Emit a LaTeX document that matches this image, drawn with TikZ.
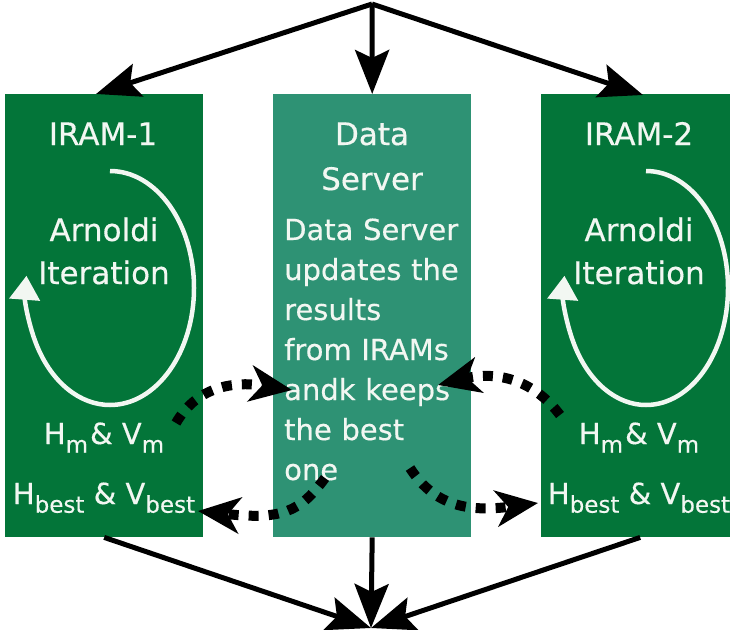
\documentclass[tikz,border=0pt]{standalone}
\usepackage{fontspec}
\setmainfont{DejaVu Sans}[FakeBold=0.4]
\usetikzlibrary{arrows.meta}
\definecolor{iramgreen}{RGB}{3,117,57}
\definecolor{servgreen}{RGB}{46,146,116}
\definecolor{txtwhite}{RGB}{242,247,242}
\newcommand{\lsub}[1]{\raisebox{-0.3em}{\fontsize{23}{23}\selectfont #1}}
\begin{document}
\begin{tikzpicture}[x=1pt,y=-1pt,
  box/.style={draw=none, minimum width=198pt, minimum height=443pt, inner sep=0pt, anchor=north west},
  titletxt/.style={text=txtwhite, inner sep=0pt, font=\fontsize{31}{45}\selectfont},
  bodytxt/.style={text=txtwhite, inner sep=0pt, font=\fontsize{29}{40}\selectfont},
  looparrow/.style={draw=txtwhite, line width=4.5pt, -{Triangle[width=30pt,length=24pt]}},
  solidarrow/.style={draw=black, line width=5pt, -{Stealth[length=44pt,width=34pt,inset=8pt]}},
  dotarrow/.style={draw=black, line width=10pt, dash pattern=on 10pt off 10pt, -{Stealth[length=42pt,width=36pt,inset=12pt]}}]
\useasboundingbox (0,0) rectangle (730,629);
\fill[white] (0,0) rectangle (730,629);

% boxes
\node[box, fill=iramgreen] (L) at (5,94) {};
\node[box, fill=servgreen] (S) at (273,94) {};
\node[box, fill=iramgreen] (R) at (541,94) {};

% left texts
\node[titletxt, anchor=base] (l1) at (103,145) {IRAM-1};
\node[titletxt, anchor=base] (la) at (104,241) {Arnoldi};
\node[titletxt, anchor=base] (li) at (104,284) {Iteration};
\node[bodytxt, anchor=base] (lhm) at (104,444) {H\lsub{m}\kern2pt\& V\lsub{m}};
\node[bodytxt, anchor=base] (lhb) at (104,504) {H\lsub{best} \& V\lsub{best}};

% right texts
\node[titletxt, anchor=base] (r1) at (639,145) {IRAM-2};
\node[titletxt, anchor=base] (ra) at (639,241) {Arnoldi};
\node[titletxt, anchor=base] (ri) at (639,284) {Iteration};
\node[bodytxt, anchor=base] (rhm) at (639,444) {H\lsub{m}\kern2pt\& V\lsub{m}};
\node[bodytxt, anchor=base] (rhb) at (639,504) {H\lsub{best} \& V\lsub{best}};

% server texts
\node[titletxt, anchor=base, text width=190pt, align=center] (st) at (372,145) {Data\\Server};
\node[bodytxt, anchor=base west, text width=190pt, align=left] (sb) at (284,240)
  {Data Server\\updates the\\results\\from IRAMs\\andk keeps\\the best\\one};

% loops
\draw[looparrow] (110,171) arc[start angle=-90, end angle=186, x radius=84, y radius=117];
\draw[looparrow] (646,171) arc[start angle=-90, end angle=186, x radius=82, y radius=117];

% top arrows
\coordinate (top) at (372,4);
\coordinate (tl) at (96,94);
\coordinate (tr) at (643,95);
\draw[solidarrow] (top) -- (tl);
\draw[solidarrow] (top) -- (S.north);
\draw[solidarrow] (top) -- (tr);

% bottom arrows
\coordinate (bot) at (371,628);
\draw[solidarrow] (L.south) -- (bot);
\draw[solidarrow] (S.south) -- (bot);
\draw[solidarrow] (R.south) -- (bot);

% dotted exchange arrows
\coordinate (d1s) at (176,423);
\coordinate (d1e) at (292,390);
\coordinate (d2s) at (560,415);
\coordinate (d2e) at (438,385);
\coordinate (d3s) at (325,478);
\coordinate (d3e) at (198,511);
\coordinate (d4s) at (410,468);
\coordinate (d4e) at (538,503);
\draw[dotarrow] (d1s) .. controls (195,390) and (228,380) .. (d1e);
\draw[dotarrow] (d2s) .. controls (535,382) and (500,370) .. (d2e);
\draw[dotarrow] (d3s) .. controls (300,512) and (282,520) .. (d3e);
\draw[dotarrow] (d4s) .. controls (435,507) and (470,512) .. (d4e);
\end{tikzpicture}
\end{document}
